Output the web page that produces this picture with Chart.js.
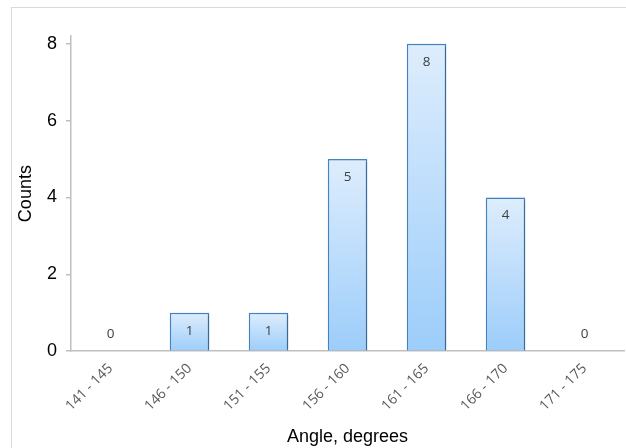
<!DOCTYPE html>
<html lang="en">
<head>
    <meta charset="UTF-8">
    <title>Angle histogram</title>
    <script src="https://cdn.jsdelivr.net/npm/chart.js"></script>
    <style>
        html, body { margin: 0; padding: 0; background: #fff; }
        #chart-container { width: 626px; height: 448px; }
    </style>
</head>
<body>
    <div id="chart-container">
        <canvas id="myChart" width="626" height="448"></canvas>
    </div>
    <script>
        var categories = ['141 - 145', '146 - 150', '151 - 155', '156 - 160', '161 - 165', '166 - 170', '171 - 175'];
        var counts = [0, 1, 1, 5, 8, 4, 0];
        var yTicks = [0, 2, 4, 6, 8];

        // outer frame + bar shadows + value labels
        var decor = {
            id: 'decor',
            beforeDraw: function(chart) {
                var c = chart.ctx;
                c.save();
                c.strokeStyle = '#d9d9d9';
                c.lineWidth = 1;
                c.strokeRect(11.5, 7.5, 700, 600);
                c.restore();
            },
            beforeDatasetsDraw: function(chart) {
                var c = chart.ctx;
                c.save();
                c.shadowColor = 'rgba(0,0,0,0.25)';
                c.shadowOffsetX = 2;
                c.shadowOffsetY = 1;
                c.shadowBlur = 3;
            },
            afterDatasetsDraw: function(chart) {
                var c = chart.ctx;
                c.restore();
                var meta = chart.getDatasetMeta(0);
                c.save();
                c.font = '13.5px "Open Sans"';
                c.fillStyle = '#404040';
                c.textAlign = 'center';
                c.textBaseline = 'middle';
                meta.data.forEach(function(bar, i) {
                    var v = counts[i];
                    var y = v > 0 ? bar.y + 18 : bar.y - 17;
                    c.fillText(String(v), bar.x, y);
                });
                c.restore();
            }
        };

        var ctx = document.getElementById('myChart').getContext('2d');
        var myChart = new Chart(ctx, {
            type: 'bar',
            data: {
                labels: categories,
                datasets: [{
                    label: 'Counts',
                    data: counts,
                    backgroundColor: function(context) {
                        var chart = context.chart;
                        if (!chart.chartArea || !chart.scales.y) return '#c4e0fb';
                        var y = chart.scales.y;
                        var top = y.getPixelForValue(context.raw || 0);
                        var bottom = y.getPixelForValue(0);
                        if (bottom - top < 1) return '#c4e0fb';
                        var g = chart.ctx.createLinearGradient(0, top, 0, bottom);
                        g.addColorStop(0, '#deedfd');
                        g.addColorStop(1, '#9ccdfa');
                        return g;
                    },
                    borderColor: '#3f86c8',
                    borderWidth: 1.5,
                    borderSkipped: 'bottom',
                    barPercentage: 0.5,
                    categoryPercentage: 1
                }]
            },
            options: {
                responsive: false,
                animation: false,
                layout: { padding: { left: 11, top: 36, right: 2, bottom: 0 } },
                plugins: {
                    legend: { display: false },
                    tooltip: { enabled: false }
                },
                scales: {
                    x: {
                        grid: { display: true, drawOnChartArea: false, drawTicks: false },
                        border: { color: '#bfbfbf', width: 1.5 },
                        ticks: {
                            color: '#595959',
                            font: { family: '"Open Sans"', size: 14 },
                            minRotation: 45,
                            maxRotation: 45,
                            padding: 9
                        },
                        title: {
                            display: true,
                            text: 'Angle, degrees',
                            color: '#000',
                            font: { family: '"Liberation Sans"', size: 18 },
                            padding: { top: 3, bottom: 0 }
                        }
                    },
                    y: {
                        min: 0,
                        max: 8.2,
                        afterFit: function(s) { s.width = 60; },
                        afterBuildTicks: function(s) {
                            s.ticks = yTicks.map(function(v) { return { value: v }; });
                        },
                        grid: { drawOnChartArea: false, drawTicks: true, tickLength: 5, color: '#bfbfbf', lineWidth: 1.5 },
                        border: { color: '#bfbfbf', width: 1.5 },
                        ticks: {
                            color: '#000',
                            font: { family: '"Liberation Sans"', size: 18 },
                            padding: 9
                        },
                        title: {
                            display: true,
                            text: 'Counts',
                            color: '#000',
                            font: { family: '"Liberation Sans"', size: 18 },
                            padding: { top: 4, bottom: 0 }
                        }
                    }
                }
            },
            plugins: [decor]
        });
    </script>
</body>
</html>
